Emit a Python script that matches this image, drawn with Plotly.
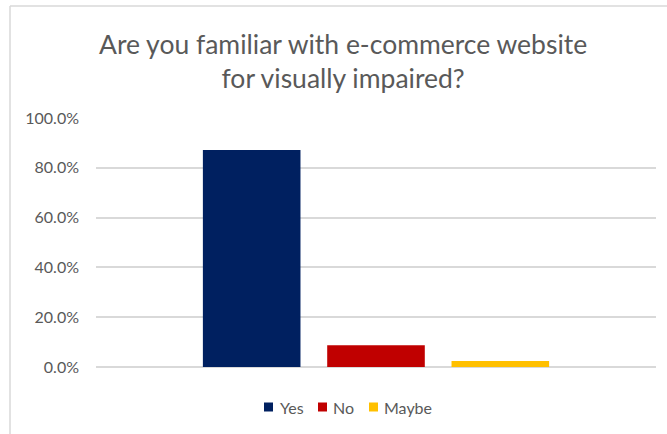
import plotly.graph_objects as go

categories = ["Response"]
series_names = ["Yes", "No", "Maybe"]
series_values = [0.871, 0.087, 0.024]
series_colors = ["#002060", "#C00000", "#FFC000"]
tick_vals = [0, 0.2, 0.4, 0.6, 0.8, 1.0]

W, H = 667, 434
L, R, T, B = 96, 11, 118, 67
pw, ph = W - L - R, H - T - B

fig = go.Figure()
for name, val, col in zip(series_names, series_values, series_colors):
    fig.add_trace(go.Bar(x=categories, y=[val], name=name, showlegend=False,
                         marker=dict(color=col, line=dict(width=0))))

def px_x(x):
    return (x - L) / pw

def px_y(y):
    return (H - B - y) / ph

font_family = "Lato, Open Sans, sans-serif"

# manual legend (Excel style: small square + label)
legend_square_x = [264, 318, 369]
legend_text_x = [278, 331, 382]
legend_y = 407
shapes = [
    dict(type="line", xref="paper", yref="paper", x0=px_x(10), x1=px_x(10),
         y0=px_y(6), y1=px_y(440), line=dict(color="#D9D9D9", width=1.5)),
    dict(type="line", xref="paper", yref="paper", x0=px_x(10), x1=px_x(680),
         y0=px_y(6), y1=px_y(6), line=dict(color="#D9D9D9", width=1.5)),
]
annotations = [dict(text="Are you familiar with e-commerce website<br>for visually impaired?",
                    xref="paper", yref="paper", x=px_x(343), y=px_y(61),
                    xanchor="center", yanchor="middle", showarrow=False,
                    font=dict(size=26.5, color="#595959", family=font_family))]
for name, col, sx, tx in zip(series_names, series_colors, legend_square_x, legend_text_x):
    shapes.append(dict(type="rect", xref="paper", yref="paper",
                       x0=px_x(sx), x1=px_x(sx + 9),
                       y0=px_y(legend_y - 4.5), y1=px_y(legend_y + 4.5),
                       fillcolor=col, line=dict(width=0)))
    annotations.append(dict(text=name, xref="paper", yref="paper",
                            x=px_x(tx), y=px_y(legend_y), xanchor="left", yanchor="middle",
                            showarrow=False,
                            font=dict(size=16, color="#595959", family=font_family)))

fig.update_layout(
    width=W, height=H,
    margin=dict(l=L, r=R, t=T, b=B),
    paper_bgcolor="white", plot_bgcolor="white",
    barmode="group", bargap=0.334, bargroupgap=0.215,
    font=dict(family=font_family, color="#595959"),
    showlegend=False,
    xaxis=dict(range=[-0.5, 0.5], showticklabels=False, showgrid=False,
               zeroline=False, showline=False, fixedrange=True),
    yaxis=dict(range=[0, 1], tickvals=tick_vals, tickformat=".1%",
               showgrid=True, gridcolor="#D9D9D9", gridwidth=1.5,
               zeroline=True, zerolinecolor="#D9D9D9", zerolinewidth=1.5,
               showline=False, ticks="", ticklabelstandoff=16,
               tickfont=dict(size=16, color="#595959")),
    annotations=annotations,
    shapes=shapes,
)
fig.write_html("out.html", config={"displayModeBar": False},
               post_script="document.body.style.margin='0';document.body.style.overflow='hidden';")
